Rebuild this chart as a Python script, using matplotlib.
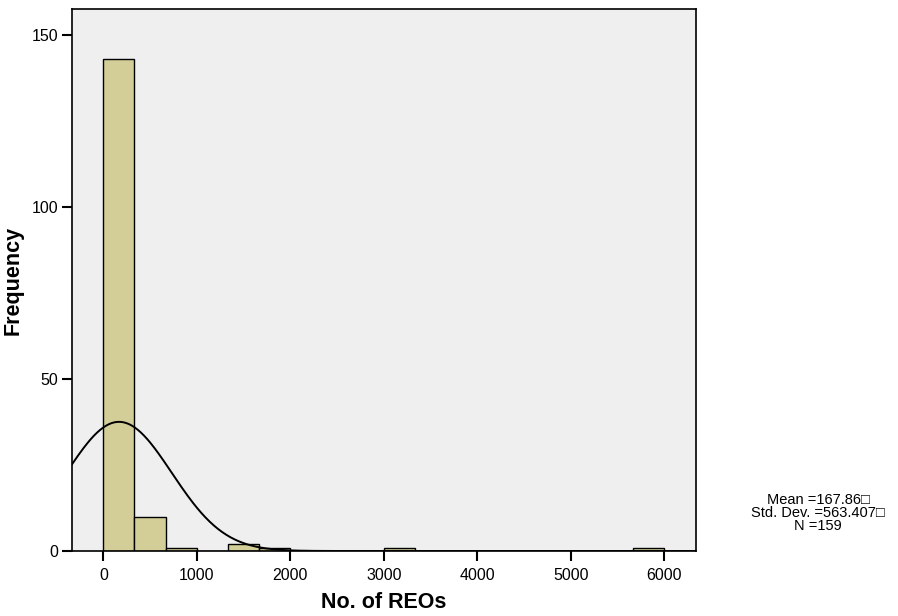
import numpy as np
import matplotlib
matplotlib.use("Agg")
import matplotlib.pyplot as plt

# REO counts, histogram bins of width 6000/18
bin_edges = np.linspace(0, 6000, 19)
bin_counts = [143, 10, 1, 0, 2, 1, 0, 0, 0, 1, 0, 0, 0, 0, 0, 0, 0, 1]
x_ticks = [0, 1000, 2000, 3000, 4000, 5000, 6000]
y_ticks = [0, 50, 100, 150]

mean_val = 167.86
std_val = 563.407
n_obs = 159

plt.rcParams['font.family'] = ['Liberation Sans', 'DejaVu Sans']

fig = plt.figure(figsize=(8.98, 6.16), dpi=100)
ax = fig.add_axes([0.0802, 0.1055, 0.6948, 0.88])
ax.set_facecolor('#efefef')

widths = np.diff(bin_edges)
ax.bar(bin_edges[:-1], bin_counts, width=widths, align='edge',
       color='#d3ce98', edgecolor='black', linewidth=1.0, zorder=2)

# fitted normal curve scaled to counts per bin
xs = np.linspace(-335, 6340, 600)
bw = widths[0]
pdf = np.exp(-0.5 * ((xs - mean_val) / std_val) ** 2) / (std_val * np.sqrt(2 * np.pi))
ax.plot(xs, n_obs * bw * pdf, color='black', linewidth=1.4, zorder=3)

ax.set_xlim(-335, 6340)
ax.set_ylim(0, 157.5)
ax.set_xticks(x_ticks)
ax.set_yticks(y_ticks)
ax.tick_params(direction='out', length=7, width=1.5, labelsize=11.5, pad=3)
ax.tick_params(axis='x', pad=5)
for s in ax.spines.values():
    s.set_linewidth(1.2)

ax.set_xlabel('No. of REOs', fontsize=15.5, fontweight='bold', labelpad=7)
ax.set_ylabel('Frequency', fontsize=15.5, fontweight='bold', labelpad=6)

stats = f"Mean ={mean_val}\u25a1\nStd. Dev. ={std_val}\u25a1\nN ={n_obs}"
fig.text(0.911, 0.167, stats, ha='center', va='center', fontsize=10.5,
         linespacing=0.9)

fig.savefig('out.png', dpi=100)
